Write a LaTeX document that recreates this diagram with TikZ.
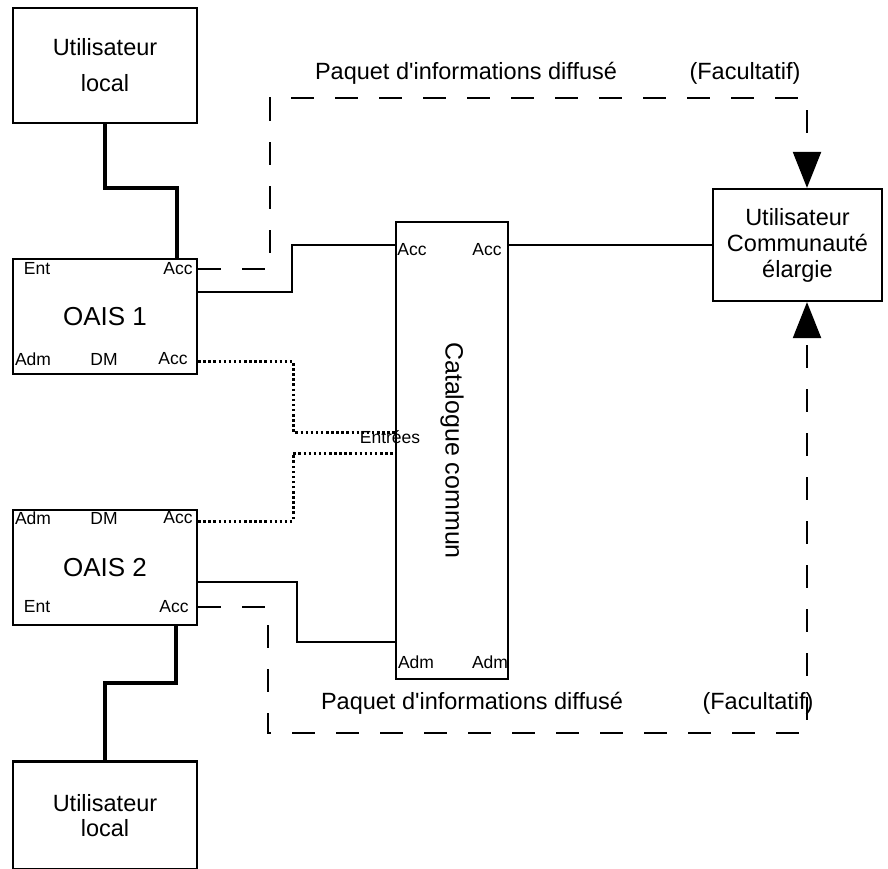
\documentclass[tikz,border=0pt]{standalone}
\usepackage{graphicx}
\usepackage{fontspec}
\setmainfont{Liberation Sans}
\usepackage{tikz}
\usetikzlibrary{arrows.meta,positioning,calc}
\tikzset{
  box/.style={draw,line width=2.2pt,align=center,inner sep=0pt,
              minimum width=184pt,minimum height=115pt,font=\fontsize{23.5}{26}\selectfont},
  oaisbox/.style={box,font=\fontsize{26}{30}\selectfont},
  port/.style={inner sep=0pt,font=\fontsize{17.5}{20}\selectfont},
  note/.style={inner sep=0pt,font=\fontsize{23.5}{26}\selectfont},
  flow/.style={line width=2.2pt},
  heavyflow/.style={line width=3.4pt},
  dashflow/.style={line width=2.2pt,dash pattern=on 23pt off 21pt,
              -{Triangle[length=36pt,width=28pt]}},
  dotflow/.style={line width=3pt,dash pattern=on 2.5pt off 2.6pt}
}

\begin{document}
\begin{tikzpicture}[x=1pt,y=-1pt]
  \useasboundingbox (0,0) rectangle (888,869);
  \node[oaisbox] (oais1) at (105,316.5) {OAIS 1};
  \node[box,above=134pt of oais1,font=\fontsize{23.5}{36}\selectfont] (local1) {Utilisateur\\local};
  \node[oaisbox,below=134pt of oais1] (oais2) {OAIS 2};
  \node[box,below=134pt of oais2,minimum height=108pt,font=\fontsize{23.5}{25}\selectfont] (local2) {Utilisateur\\local};
  \node[box,minimum width=112pt,minimum height=457pt,font=\fontsize{25}{28}\selectfont] (cat) at (452,450.5) {\rotatebox{-90}{Catalogue commun}};
  \node[box,minimum width=169pt,minimum height=112pt] (comm) at (797.5,245) {Utilisateur\\Communauté\\élargie};

  % ports
  \node[port] (o1ent) at (37,269) {Ent};
  \node[port] (o1acc) at (178,269) {Acc};
  \node[port] (o1adm) at (33,359) {Adm};
  \node[port] (o1dm) at (104,359) {DM};
  \node[port] (o1out) at (173,359) {Acc};
  \node[port] (o2adm) at (33,518) {Adm};
  \node[port] (o2dm) at (104,518) {DM};
  \node[port] (o2out) at (178,518) {Acc};
  \node[port] (o2ent) at (37,607) {Ent};
  \node[port] (o2acc) at (174,607) {Acc};
  \node[port] (cacc1) at (412,250) {Acc};
  \node[port] (cacc2) at (487,250) {Acc};
  \node[port] (cadm1) at (416,662) {Adm};
  \node[port] (cadm2) at (490,662) {Adm};
  \node[port] (entrees) at (390,437) {Entrées};

  \node[note] (pkt1) at (466,73) {Paquet d\textquotesingle informations diffusé};
  \node[note] (opt1) at (745,73) {(Facultatif)};
  \node[note] (pkt2) at (472,703) {Paquet d\textquotesingle informations diffusé};
  \node[note] (opt2) at (758,703) {(Facultatif)};

  \coordinate (bend1) at (177,188);
  \coordinate (bend2) at (176,683);
  \coordinate (j1) at (292,292);
  \coordinate (j2) at (292,245);
  \coordinate (j3) at (297,582);
  \coordinate (j4) at (297,642);
  \coordinate (e1) at (293,361);
  \coordinate (e2) at (293,432);
  \coordinate (e3) at (293,521);
  \coordinate (e4) at (293,453);
  \coordinate (d1) at (270,98);
  \coordinate (d2) at (807,98);
  \coordinate (d3) at (268,733);
  \coordinate (d4) at (807,733);

  \draw[heavyflow] (local1.south) |- (bend1) -- (bend1 |- oais1.north);
  \draw[heavyflow] (bend2 |- oais2.south) -- (bend2) -| (local2.north);
  \draw[flow] (oais1.east |- j1) -- (j1) -- (j2) -- (cat.west |- j2);
  \draw[flow] (cat.east |- comm.west) -- (comm.west);
  \draw[flow] (oais2.east |- j3) -- (j3) -- (j4) -- (cat.west |- j4);
  \draw[dotflow] (oais1.east |- e1) -- (e1) -- (e2) -- (cat.west |- e2);
  \draw[dotflow] (oais2.east |- e3) -- (e3) -- (e4) -- (cat.west |- e4);
  \draw[dashflow] (oais1.east |- o1acc) -| (d1) -- (d2) -- (d2 |- comm.north);
  \draw[dashflow] (oais2.east |- o2acc) -| (d3) -- (d4) -- (d4 |- comm.south);
\end{tikzpicture}
\end{document}
